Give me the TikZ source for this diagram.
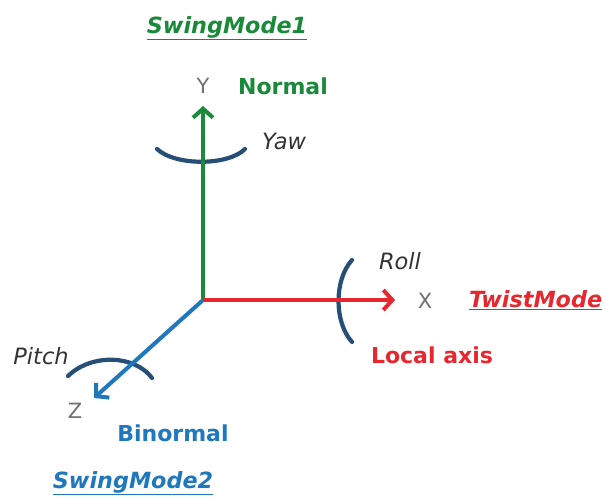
\documentclass[tikz,border=0pt]{standalone}
\usepackage{fontspec}
\setmainfont{DejaVu Sans}
\usetikzlibrary{arrows.meta}
\definecolor{ygreen}{HTML}{1A8A3A}
\definecolor{xred}{HTML}{E8262E}
\definecolor{zblue}{HTML}{1F78BE}
\definecolor{arcblue}{HTML}{264F78}
\definecolor{lbl}{HTML}{707070}
\tikzset{
  axis/.style={line width=4pt,-{Straight Barb[length=9pt,width=20pt,line width=4pt]}},
  rot/.style={line width=4.2pt,arcblue,line cap=round},
  axname/.style={text=lbl,font=\fontsize{21}{23}\selectfont},
  rotname/.style={text=black!80,font=\fontsize{22.5}{25}\selectfont\itshape},
  tag/.style={font=\fontsize{22}{25}\selectfont\bfseries},
  mode/.style={font=\fontsize{22.3}{25}\selectfont\bfseries\itshape},
}
\begin{document}
\begin{tikzpicture}[x=1pt,y=-1pt]
\useasboundingbox (0,0) rectangle (605,500);
\coordinate (O) at (203,300);
\coordinate (Ytip) at (203,106);
\coordinate (Xtip) at (395,300);
\coordinate (Ztip) at (94,398);
% rotation arcs (behind axes)
\draw[rot] (157,149) .. controls (175,166) and (228,166) .. (245,149);
\draw[rot] (352,260) .. controls (334,280) and (334,322) .. (352,342);
\draw[rot] (68,376) .. controls (92,353) and (135,355) .. (152,378);
% axes
\draw[axis,ygreen] (O) -- (Ytip);
\draw[axis,xred] (O) -- (Xtip);
\draw[axis,zblue] (O) -- (Ztip);
% labels
\node[axname] (Y) at (203,86) {Y};
\node[tag,text=ygreen] (normal) at (283,86) {Normal};
\node[mode,text=ygreen] (sm1) at (227,28) {\underline{SwingMode1}};
\node[rotname] (yaw) at (284,141) {Yaw};
\node[axname] (X) at (425,301) {X};
\node[mode,text=xred,anchor=west,inner sep=0pt] (tm) at (469,300) {\underline{TwistMode}};
\node[rotname] (roll) at (400,261) {Roll};
\node[tag,text=xred] (local) at (432,355) {Local axis};
\node[axname] (Z) at (75,411) {Z};
\node[tag,text=zblue] (binormal) at (173,433) {Binormal};
\node[mode,text=zblue] (sm2) at (133,483) {\underline{SwingMode2}};
\node[rotname] (pitch) at (41,356) {Pitch};
\end{tikzpicture}
\end{document}
